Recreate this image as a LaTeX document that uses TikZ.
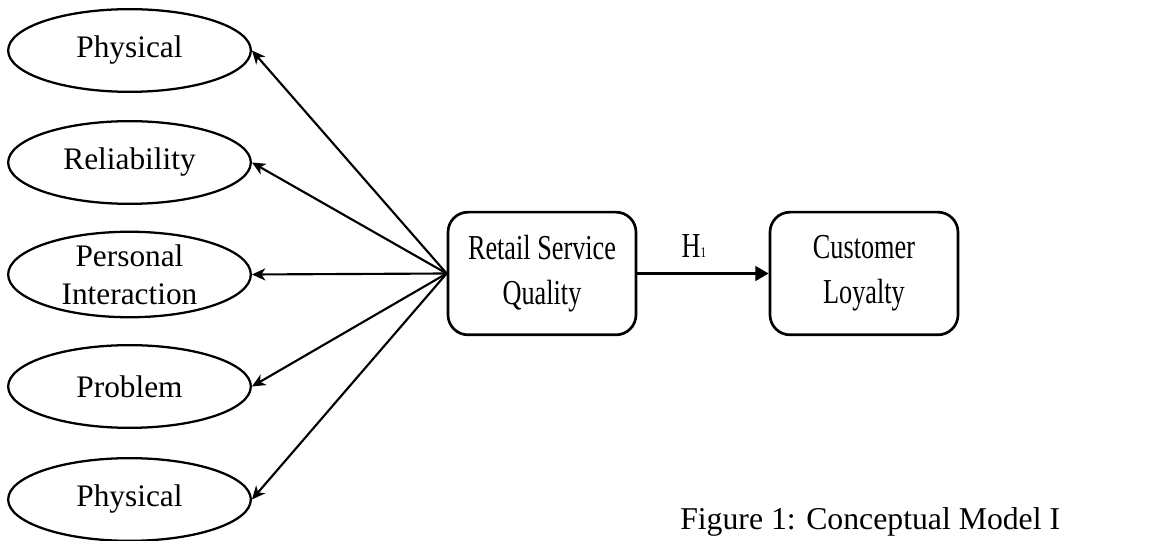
\documentclass[tikz,border=0pt]{standalone}
\usepackage{fontspec}
\setmainfont{Liberation Serif}
\newfontfamily\narrowfont[FakeStretch=0.75]{Liberation Serif}
\usetikzlibrary{
  arrows.meta,
  positioning,
  shapes
}

\begin{document}
\begin{tikzpicture}[x=0.75pt, y=-0.75pt,
    factor/.style={ellipse, draw, line width=1.7pt, minimum width=182pt,
      minimum height=62pt, inner sep=0pt, align=center,
      font=\fontsize{23.5}{28.8}\selectfont},
    construct/.style={draw, rounded corners=15pt, line width=2pt,
      minimum width=141pt, minimum height=92pt, align=center,
      font=\narrowfont\fontsize{26.25}{33.75}\selectfont},
    load/.style={-{Stealth[length=10pt,width=9pt,inset=3pt]}, line width=1.6pt}]
  \useasboundingbox (0, 0) rectangle (1168, 541);

  % dimensions
  \node[factor] (phys1) at (129.5, 50.5) {Physical};
  \node[factor] (relia) at (129.5, 162.5) {Reliability};
  \node[factor] (persint) at (129.5, 274.5) {Personal\\Interaction};
  \node[factor] (problem) at (129.5, 386.5) {Problem};
  \node[factor] (phys2) at (129.5, 499.5) {Physical};

  % constructs
  \node[construct] (rsq) at (542, 273.5) {Retail Service\\Quality};
  \node[construct] (loyal) at (864, 273.5) {Customer\\Loyalty};

  \draw[load] (rsq.west) -- (phys1.east);
  \draw[load] (rsq.west) -- (relia.east);
  \draw[load] (rsq.west) -- (persint.east);
  \draw[load] (rsq.west) -- (problem.east);
  \draw[load] (rsq.west) -- (phys2.east);

  \draw[-{Triangle[length=10pt,width=11pt]}, line width=2pt]
  (rsq) -- node[above=8pt, pos=0.43, font=\narrowfont\fontsize{26.25}{26.25}\selectfont]
  {H{\fontsize{11}{11}\selectfont 1}} (loyal);

  \node[anchor=base west, inner sep=0pt, font=\fontsize{23.8}{24}\selectfont]
  (caption) at (680, 530) {Figure 1: Conceptual Model I};
\end{tikzpicture}
\end{document}
